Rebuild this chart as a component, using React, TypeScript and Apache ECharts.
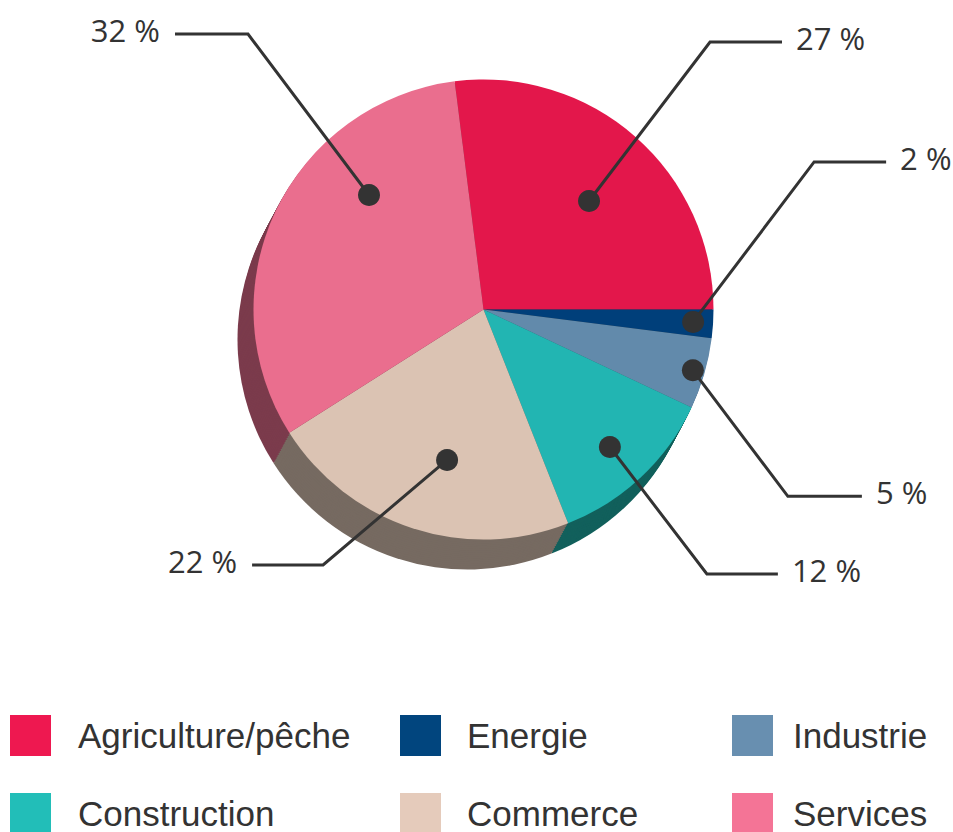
import React, { useEffect, useRef } from 'react';
import * as echarts from 'echarts';

// ---- data ----
const categories = ['Agriculture/pêche', 'Energie', 'Industrie', 'Construction', 'Commerce', 'Services'];
const shares = [27, 2, 5, 12, 22, 32];
// legend grid: [column, row] of each category
const legendCells = [
  [0, 0],
  [1, 0],
  [2, 0],
  [0, 1],
  [1, 1],
  [2, 1],
];

// ---- styles ----
const sliceColors = ['#E3174B', '#003F7A', '#628AAB', '#22B5B2', '#DBC3B3', '#EA6E8E'];
const sideColors = ['#7A1C33', '#0B2A45', '#3D5468', '#12605C', '#766A61', '#7B3B4C'];
const legendColors = ['#EE1850', '#01457E', '#688FB0', '#22BEB8', '#E5CBBB', '#F47496'];

// ---- layout ----
const CX = 483.5;
const CY = 309.5;
const R = 230;
const POLAR_SPAN = 2; // polar frame extends to 2 pie radii so leaders fit inside it
const START = 97.2;
const DEPTH: [number, number] = [-16, 30];
const DEPTH_STEPS = 16;
const legendLefts = [10, 400, 732];
const legendTextPads = [22, 21, 15];
const legendTops = [715, 793];
// dot placement: radius fraction and angular nudge (in percent units)
const dotLayout = [
  { r: 0.658, nudge: 0.78 },
  { r: 0.913, nudge: -0.06 },
  { r: 0.948, nudge: 0 },
  { r: 0.812, nudge: 0.17 },
  { r: 0.673, nudge: -1.22 },
  { r: 0.704, nudge: 5.5 },
];
// leader: first leg offset from dot, then horizontal tail
const leaders = [
  { leg: [121, -159], tail: 72 },
  { leg: [121, -160], tail: 72 },
  { leg: [95, 126], tail: 74 },
  { leg: [97, 127], tail: 71 },
  { leg: [-124, 105], tail: -71 },
  { leg: [-121, -161], tail: -73 },
];

const total = shares.reduce((a, b) => a + b, 0);
const midPct: number[] = [];
{
  let acc = 0;
  shares.forEach((v) => {
    midPct.push(((acc + v / 2) / total) * 100);
    acc += v;
  });
}

function dotPoint(i: number): [number, number] {
  const pct = midPct[i] + dotLayout[i].nudge;
  const a = ((START - 3.6 * pct) * Math.PI) / 180;
  const r = dotLayout[i].r * R;
  return [CX + r * Math.cos(a), CY - r * Math.sin(a)];
}

function leaderPoints(i: number): [number, number][] {
  const p0 = dotPoint(i);
  const L = leaders[i];
  const p1: [number, number] = [p0[0] + L.leg[0], p0[1] + L.leg[1]];
  const p2: [number, number] = [p1[0] + L.tail, p1[1]];
  return [p0, p1, p2];
}

// pixel point -> polar [radius in pie radii, percent]
function toPolar(p: [number, number]): [number, number] {
  const dx = p[0] - CX;
  const dy = CY - p[1];
  const r = Math.sqrt(dx * dx + dy * dy) / R;
  const deg = (Math.atan2(dy, dx) * 180) / Math.PI;
  let pct = (START - deg) / 3.6;
  pct = ((pct % 100) + 100) % 100;
  return [r, pct];
}

export default function App() {
  const ref = useRef<HTMLDivElement>(null);

  useEffect(() => {
    if (!ref.current) return;
    const chart = echarts.init(ref.current, null, { renderer: 'svg' });

    const shadowSeries: any[] = [];
    for (let k = DEPTH_STEPS; k >= 1; k--) {
      const t = k / DEPTH_STEPS;
      shadowSeries.push({
        type: 'pie',
        name: 'side' + k,
        center: [CX + DEPTH[0] * t, CY + DEPTH[1] * t],
        radius: R,
        startAngle: START,
        clockwise: true,
        z: 1,
        silent: true,
        legendHoverLink: false,
        label: { show: false },
        labelLine: { show: false },
        emphasis: { disabled: true },
        itemStyle: { borderWidth: 0 },
        data: categories.map((n, i) => ({ name: n, value: shares[i], itemStyle: { color: sideColors[i] } })),
      });
    }

    const leaderSeries = categories.map((_, i) => ({
      type: 'line',
      name: 'leader' + i,
      coordinateSystem: 'polar',
      polarIndex: 0,
      z: 4,
      silent: true,
      clip: false,
      symbol: 'none',
      smooth: false,
      lineStyle: { color: '#333333', width: 3, cap: 'butt', join: 'miter' },
      emphasis: { disabled: true },
      data: leaderPoints(i).map(toPolar),
    }));

    const option: any = {
      animation: false,
      textStyle: { fontFamily: 'Open Sans' },
      legend: categories.map((n, i) => ({
        orient: 'horizontal',
        left: legendLefts[legendCells[i][0]],
        top: legendTops[legendCells[i][1]],
        padding: 0,
        itemWidth: 41,
        itemHeight: 41,
        icon: 'rect',
        textStyle: {
          fontFamily: 'Liberation Sans',
          fontSize: 35,
          color: '#333333',
          lineHeight: 41,
          padding: [0, 0, 0, legendTextPads[legendCells[i][0]]],
        },
        data: [{ name: n, itemStyle: { color: legendColors[i], borderWidth: 0 } }],
      })),
      polar: { center: [CX, CY], radius: R * POLAR_SPAN },
      angleAxis: {
        type: 'value',
        min: 0,
        max: 100,
        startAngle: START,
        clockwise: true,
        show: false,
        axisLine: { show: false },
        axisTick: { show: false },
        axisLabel: { show: false },
        splitLine: { show: false },
      },
      radiusAxis: {
        type: 'value',
        min: 0,
        max: POLAR_SPAN,
        show: false,
        axisLine: { show: false },
        axisTick: { show: false },
        axisLabel: { show: false },
        splitLine: { show: false },
      },
      series: [
        {
          type: 'pie',
          name: 'Secteurs',
          center: [CX, CY],
          radius: R,
          startAngle: START,
          clockwise: true,
          z: 3,
          avoidLabelOverlap: false,
          emphasis: { scale: false },
          itemStyle: { borderWidth: 0 },
          data: categories.map((n, i) => ({ name: n, value: shares[i], itemStyle: { color: sliceColors[i] } })),
          label: {
            show: true,
            position: 'outside',
            formatter: '{c} %',
            color: '#333333',
            fontSize: 31,
            fontFamily: 'Open Sans',
          },
          labelLine: { show: false },
          labelLayout: (params: any) => {
            const i = params.dataIndex;
            const pts = leaderPoints(i);
            const p2 = pts[2];
            const right = leaders[i].tail > 0;
            return {
              x: p2[0] + (right ? 14 : -15),
              y: p2[1] - 4,
              align: right ? 'left' : 'right',
              verticalAlign: 'middle',
            };
          },
        },
        ...shadowSeries,
        ...leaderSeries,
        {
          type: 'scatter',
          name: 'dots',
          coordinateSystem: 'polar',
          polarIndex: 0,
          symbol: 'circle',
          symbolSize: 22,
          z: 5,
          silent: true,
          itemStyle: { color: '#333333', opacity: 1 },
          data: categories.map((_, i) => [dotLayout[i].r, midPct[i] + dotLayout[i].nudge]),
        },
      ],
    };

    chart.setOption(option);
    return () => chart.dispose();
  }, []);

  return (
    <div
      ref={ref}
      style={{ position: 'absolute', left: 0, top: 0, width: 953, height: 832, background: '#ffffff' }}
    />
  );
}
